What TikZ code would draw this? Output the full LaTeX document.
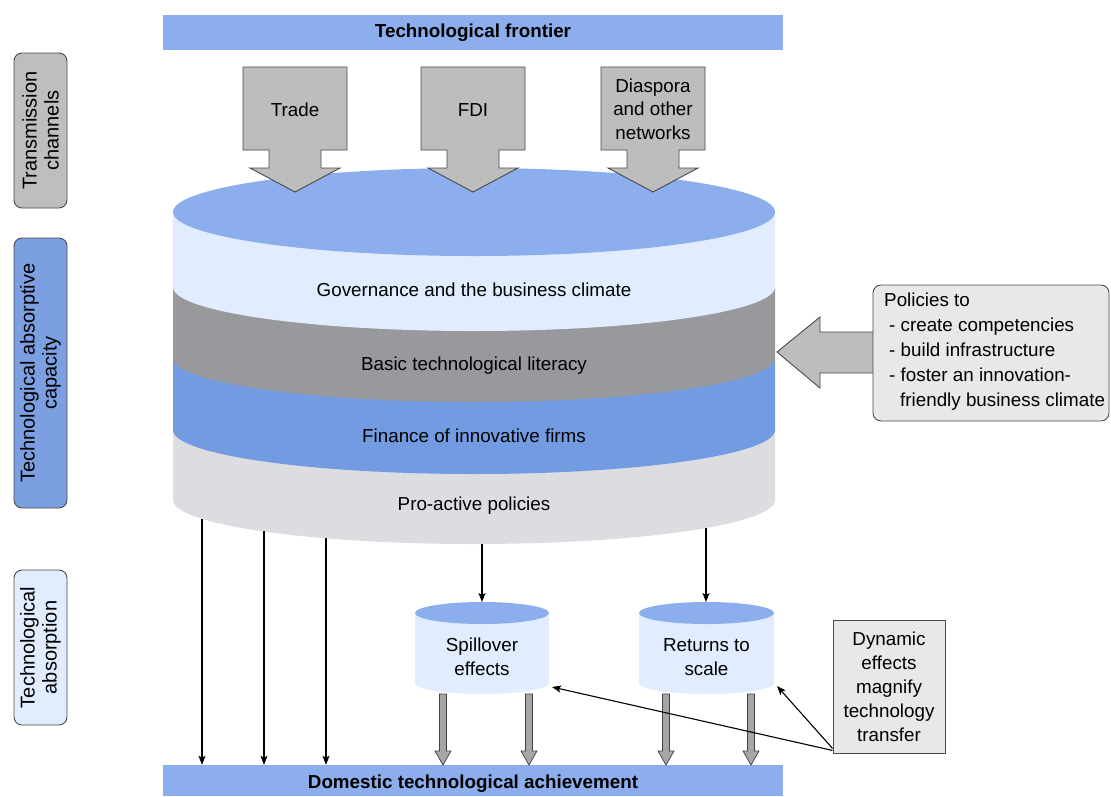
\documentclass[tikz,border=0pt]{standalone}
\usepackage{fontspec}
\setmainfont{Liberation Sans}
\usetikzlibrary{arrows.meta,calc}
\definecolor{topblue}{HTML}{8CAEEC}
\definecolor{govblue}{HTML}{E1EDFE}
\definecolor{basicgray}{HTML}{98999D}
\definecolor{finblue}{HTML}{729BE1}
\definecolor{progray}{HTML}{DCDDE0}
\definecolor{arrgray}{HTML}{BDBDBD}
\definecolor{boxgray}{HTML}{E8E8EA}
\definecolor{labgray}{HTML}{BEBEBE}
\definecolor{labblue}{HTML}{7C9FE2}
\definecolor{lablight}{HTML}{E1EDFD}
\definecolor{edgecol}{HTML}{4A4A4A}
\begin{document}
\begin{tikzpicture}[x=1pt,y=-1pt,
  txt/.style={font=\fontsize{18.8}{23.5}\selectfont, align=center, inner sep=0pt},
  bartitle/.style={font=\fontsize{18.8}{23}\selectfont\bfseries, inner sep=0pt},
  barfill/.style={fill=topblue, inner sep=0pt, minimum width=620pt},
  sidelabel/.style={draw=edgecol, line width=0.9pt, rounded corners=8pt, rotate=90,
     minimum height=53pt, align=center, inner sep=0pt, font=\fontsize{20}{22}\selectfont},
  blockarrow/.style={fill=arrgray, draw=edgecol, line width=0.9pt, line join=miter},
  hollowarrow/.style={fill=gray!70, draw=black!75, line width=0.7pt},
  thinarrow/.style={draw=black, line width=1.1pt, -{Stealth[length=9pt,width=7pt,inset=2pt]}},
  infobox/.style={fill=boxgray, draw=edgecol, line width=0.9pt}
]
\useasboundingbox (0,0) rectangle (1111,796);

% side labels
\node[sidelabel, fill=labgray, minimum width=155pt] (trans) at (40.5,130.5) {Transmission\\channels};
\node[sidelabel, fill=labblue, minimum width=270pt] (capac) at (40.5,373) {Technological absorptive\\capacity};
\node[sidelabel, fill=lablight, minimum width=155pt] (absor) at (40.5,647.5) {Technological\\absorption};

% top and bottom bars
\node[barfill, minimum height=35pt] (frontbar) at (473,32.5) {};
\node[bartitle] (front) at (473,33) {Technological frontier};
\node[barfill, minimum height=31pt] (dom) at (473,780.5) {};
\node[bartitle] (domtext) at (473,784) {Domestic technological achievement};

% big cylinder
\fill[progray] (173,430) -- (173,500) arc[start angle=180,end angle=360,x radius=301pt,y radius=44pt] -- (775,430) -- cycle;
\fill[finblue] (173,358) -- (173,430) arc[start angle=180,end angle=360,x radius=301pt,y radius=44pt] -- (775,358) -- cycle;
\fill[basicgray] (173,287) -- (173,358) arc[start angle=180,end angle=360,x radius=301pt,y radius=44pt] -- (775,287) -- cycle;
\fill[govblue] (173,212) -- (173,287) arc[start angle=180,end angle=360,x radius=301pt,y radius=44pt] -- (775,212) -- cycle;
\fill[topblue] (474,212) ellipse[x radius=301pt,y radius=44pt];

\node[txt] (gov) at (474,290) {Governance and the business climate};
\node[txt] (basic) at (474,366) {Basic technological literacy};
\node[txt] (fin) at (474,436) {Finance of innovative firms};
\node[txt] (pro) at (474,506) {Pro-active policies};

% transmission channel arrows
\foreach \cx in {295,473,653}{
  \draw[blockarrow] ({\cx-52},67) -- ({\cx+52},67) -- ({\cx+52},150) -- ({\cx+26},150) -- ({\cx+26},168)
     -- ({\cx+45},168) -- (\cx,192) -- ({\cx-45},168) -- ({\cx-26},168) -- ({\cx-26},150) -- ({\cx-52},150) -- cycle;
}
\node[txt] (trade) at (295,110) {Trade};
\node[txt] (fdi) at (473,110) {FDI};
\node[txt] (dias) at (653,109) {Diaspora\\and other\\networks};

% policies arrow and box
\draw[blockarrow] (777,352) -- (820,317) -- (820,332) -- (874,332) -- (874,373) -- (820,373) -- (820,388) -- cycle;
\node[infobox, rounded corners=8pt, minimum width=236pt, minimum height=136pt] (polbox) at (991,353) {};
\node[font=\fontsize{18.8}{25}\selectfont, align=left, inner sep=0pt, anchor=west] (pol) at (884,352)
  {Policies to\\\hspace*{5pt}- create competencies\\\hspace*{5pt}- build infrastructure\\\hspace*{5pt}- foster an innovation-\\\hspace*{16pt}friendly business climate};

% small cylinders
\fill[govblue] (415,613) -- (415,683) arc[start angle=180,end angle=360,x radius=67pt,y radius=11pt] -- (549,613) -- cycle;
\fill[topblue] (482,613) ellipse[x radius=67pt,y radius=11pt];
\node[txt] (spill) at (482,657) {Spillover\\effects};
\fill[govblue] (639,613) -- (639,683) arc[start angle=180,end angle=360,x radius=67.5pt,y radius=11pt] -- (774,613) -- cycle;
\fill[topblue] (706.5,613) ellipse[x radius=67.5pt,y radius=11pt];
\node[txt] (ret) at (706.5,657) {Returns to\\scale};

% hollow arrows from small cylinders
\foreach \x in {443,529,666,751}{
  \draw[hollowarrow] ({\x-3.5},694) -- ({\x+3.5},694) -- ({\x+3.5},751) -- ({\x+8},751) -- (\x,765)
     -- ({\x-8},751) -- ({\x-3.5},751) -- cycle;
}

% thin arrows from the cylinder
\coordinate (c1) at (202,519);
\coordinate (c2) at (264,531);
\coordinate (c3) at (326,538);
\coordinate (c4) at (482,544);
\coordinate (c5) at (706,528);
\coordinate (spilltop) at (482,602);
\coordinate (rettop) at (706,602);
\draw[thinarrow] (c1) -- (c1 |- dom.north);
\draw[thinarrow] (c2) -- (c2 |- dom.north);
\draw[thinarrow] (c3) -- (c3 |- dom.north);
\draw[thinarrow] (c4) -- (spilltop);
\draw[thinarrow] (c5) -- (rettop);

% dynamic effects
\node[infobox, minimum width=112pt, minimum height=133pt, align=center, inner sep=0pt,
  font=\fontsize{18.8}{24}\selectfont] (dyn) at (889,686.5) {Dynamic\\effects\\magnify\\technology\\transfer};
\coordinate (spilltip) at (552,687);
\coordinate (rettip) at (777,686);
\draw[thinarrow] ([yshift=3pt]dyn.south west) -- (spilltip);
\draw[thinarrow] ([yshift=5pt]dyn.south west) -- (rettip);
\end{tikzpicture}
\end{document}
